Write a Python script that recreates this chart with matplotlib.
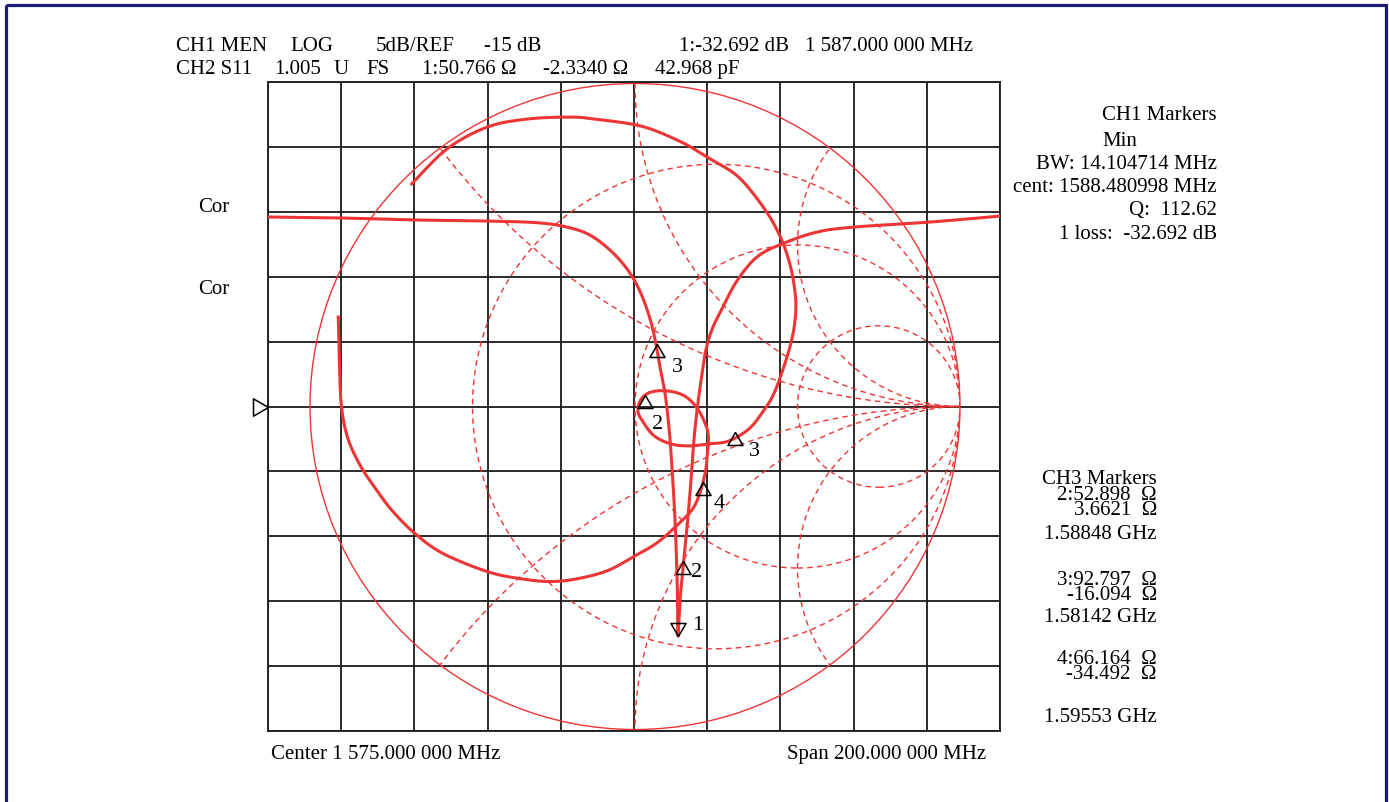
import numpy as np
import matplotlib.pyplot as plt
from matplotlib.patches import Circle, Rectangle

plt.rcParams['font.family'] = ['Liberation Serif', 'DejaVu Serif']

# ---- values ----
center_mhz = 1575.0
span_mhz = 200.0
ref_db = -15.0
db_per_div = 5.0

# CH1 log magnitude trace
ch1_mhz = [1475.0, 1495.5, 1515.4, 1534.8, 1549.0, 1557.0, 1563.0, 1568.4, 1573.1,
           1576.6, 1579.4, 1581.0, 1582.1, 1583.5, 1584.6, 1585.4, 1586.2, 1586.7,
           1586.9, 1587.0, 1587.6, 1588.4, 1589.2, 1589.7, 1590.6, 1591.4, 1592.5,
           1593.6, 1594.6, 1596.4, 1599.0, 1603.1, 1608.6, 1615.4, 1625.0, 1635.4,
           1655.9, 1675.0]
ch1_db = [-0.40, -0.48, -0.63, -0.71, -0.85, -1.20, -1.80, -2.94, -4.40,
          -6.10, -8.26, -10.18, -11.96, -14.04, -16.73, -19.81, -23.67, -27.52,
          -29.82, -32.69, -29.82, -27.52, -25.21, -23.67, -20.59, -17.50, -14.65,
          -12.50, -10.70, -9.00, -7.50, -5.33, -3.48, -2.48, -1.56, -1.17,
          -0.79, -0.33]

ch1_mk_id = ['1', '2', '3']
ch1_mk_mhz = [1587.0, 1588.48, 1581.42]
ch1_mk_db = [-32.692, -26.9, -10.2]

# CH2 S11 on the Smith chart (reflection coefficient)
s11_re = [-0.913, -0.910, -0.904, -0.885, -0.848, -0.802, -0.746, -0.675, -0.591,
          -0.455, -0.353, -0.260, -0.176, -0.084, -0.003, 0.065, 0.127, 0.183,
          0.214, 0.223, 0.226, 0.214, 0.189, 0.152, 0.102, 0.050, 0.019, 0.009,
          0.025, 0.059, 0.111, 0.167, 0.226, 0.288, 0.350, 0.393, 0.427, 0.461,
          0.486, 0.495, 0.489, 0.474, 0.446, 0.399, 0.319, 0.232, 0.142, 0.019,
          -0.127, -0.198, -0.331, -0.455, -0.579, -0.687]
s11_im = [0.277, 0.153, 0.008, -0.094, -0.178, -0.249, -0.324, -0.395, -0.455,
          -0.511, -0.533, -0.542, -0.533, -0.508, -0.464, -0.424, -0.370, -0.308,
          -0.215, -0.141, -0.091, -0.048, -0.002, 0.033, 0.048, 0.045, 0.023, -0.014,
          -0.048, -0.091, -0.116, -0.122, -0.116, -0.107, -0.070, -0.017, 0.039, 0.132,
          0.224, 0.308, 0.379, 0.450, 0.528, 0.611, 0.710, 0.766, 0.819, 0.868,
          0.890, 0.896, 0.890, 0.865, 0.797, 0.689]

# CH3 markers (impedance, ohms)
ch3_mk_id = ['2', '3', '4']
ch3_mk_r = [52.898, 92.797, 66.164]
ch3_mk_x = [3.6621, -16.094, -34.492]
z0 = 50.0

smith_r = [1 / 3, 1.0, 3.0]
smith_x = [0.5, 1.0, 2.0]


def smooth(xs, ys, n=10):
    # catmull-rom through the read points, only so the trace draws round
    p = np.column_stack([xs, ys]).astype(float)
    p = np.vstack([p[0], p, p[-1]])
    t = np.linspace(0, 1, n, endpoint=False)[:, None]
    out = []
    for i in range(1, len(p) - 2):
        p0, p1, p2, p3 = p[i - 1], p[i], p[i + 1], p[i + 2]
        out.append(0.5 * (2 * p1 + (p2 - p0) * t + (2 * p0 - 5 * p1 + 4 * p2 - p3) * t ** 2
                          + (3 * p1 - p0 - 3 * p2 + p3) * t ** 3))
    out.append(p[-2][None])
    out = np.vstack(out)
    return out[:, 0], out[:, 1]


# ---- figure ----
W, H = 1389, 803
fig = plt.figure(figsize=(W / 100, H / 100), dpi=100)
gx0, gx1, gy0, gy1 = 268, 1000, 83, 732
pos = [gx0 / W, 1 - gy1 / H, (gx1 - gx0) / W, (gy1 - gy0) / H]

red = '#ee3535'
ink = '#1a1a1a'

# overlay in pixel units for the screen text and frame
ov = fig.add_axes([0, 0, 1, 1])
ov.set_xlim(0, W)
ov.set_ylim(H, 0)
ov.axis('off')
ov.add_patch(Rectangle((5.5, 5.5), 1380, 830, fill=False, ec='#1c1c78', lw=2.3, clip_on=False))

# rectangular grid / log mag
ax = fig.add_axes(pos)
ax.set_facecolor('none')
ax.set_xlim(center_mhz - span_mhz / 2, center_mhz + span_mhz / 2)
ax.set_ylim(ref_db - 5 * db_per_div, ref_db + 5 * db_per_div)
ax.set_xticks(np.linspace(center_mhz - span_mhz / 2, center_mhz + span_mhz / 2, 11))
ax.set_yticks(np.arange(ref_db - 5 * db_per_div, ref_db + 5 * db_per_div + 0.1, db_per_div))
ax.grid(True, color=ink, lw=1.3)
ax.tick_params(length=0, labelbottom=False, labelleft=False)
for s in ax.spines.values():
    s.set_color(ink)
    s.set_linewidth(1.3)
lx, ly = smooth(ch1_mhz, ch1_db)
ax.plot(lx, ly, color=red, lw=2.2, zorder=4)

up = [(0, 0), (-0.55, -0.95), (0.55, -0.95), (0, 0)]
down = [(0, 0), (-0.55, 0.95), (0.55, 0.95), (0, 0)]
right = [(0, 0), (-0.95, 0.55), (-0.95, -0.55), (0, 0)]
ms = 26 * 0.72

ax.plot([ax.get_xlim()[0]], [ref_db], marker=right, ms=30 * 0.72, mfc='white',
        mec='black', mew=1.1, clip_on=False, zorder=6)

ch1_off = {'1': (14, 12), '2': (8, -11), '3': (14, -22)}
for k, f, d in zip(ch1_mk_id, ch1_mk_mhz, ch1_mk_db):
    ax.plot([f], [d], marker=down if k == '1' else up, ms=ms, mfc='none',
            mec='black', mew=1.1, zorder=6, clip_on=False)
    ax.annotate(k, (f, d), xytext=ch1_off[k], textcoords='offset pixels',
                ha='left', va='center', fontsize=16)

# Smith chart (screen pixels are a touch wider than tall)
Rx, Ry, cx = 325.0, 323.0, 635.0
sm = fig.add_axes(pos)
sm.set_facecolor('none')
sm.set_xlim((gx0 - cx) / Rx, (gx1 - cx) / Rx)
sm.set_ylim(-(gy1 - gy0) / 2 / Ry, (gy1 - gy0) / 2 / Ry)
sm.axis('off')

unit = Circle((0, 0), 1.0, transform=sm.transData)
sm.add_patch(Circle((0, 0), 1.0, fill=False, ec=red, lw=1.0))
dash = (0, (4, 3))
for r in smith_r:
    c = Circle((r / (1 + r), 0), 1 / (1 + r), fill=False, ec=red, lw=1.0, ls=dash)
    sm.add_patch(c)
    c.set_clip_path(unit)
for x in smith_x:
    for sgn in (1, -1):
        c = Circle((1, sgn / x), 1 / x, fill=False, ec=red, lw=1.0, ls=dash)
        sm.add_patch(c)
        c.set_clip_path(unit)

sx, sy = smooth(s11_re, s11_im)
sm.plot(sx, sy, color=red, lw=2.2, zorder=4)

ch3_off = {'2': (7, -28), '3': (14, -19), '4': (11, -20)}
for k, r, x in zip(ch3_mk_id, ch3_mk_r, ch3_mk_x):
    z = complex(r, x) / z0
    g = (z - 1) / (z + 1)
    sm.plot([g.real], [g.imag], marker=up, ms=ms, mfc='none', mec='black',
            mew=1.1, zorder=6)
    sm.annotate(k, (g.real, g.imag), xytext=ch3_off[k], textcoords='offset pixels',
                ha='left', va='center', fontsize=16)

# ---- screen text ----
fs = 15
hdr1 = [(176, 'CH1 MEN'), (290, 'LOG'), (376, '5dB/REF'), (484, '-15 dB'),
        (679, '1:-32.692 dB'), (805, '1 587.000 000 MHz')]
hdr2 = [(176, 'CH2 S11'), (274, '1.005'), (334, 'U'), (366, 'FS'),
        (422, '1:50.766 Ω'), (543, '-2.3340 Ω'), (655, '42.968 pF')]
for x, t in hdr1:
    ov.text(x, 51, t, fontsize=fs, va='baseline')
for x, t in hdr2:
    ov.text(x, 74, t, fontsize=fs, va='baseline')

ch1_box = [(120, 'CH1 Markers'), (169, 'BW: 14.104714 MHz'),
           (192, 'cent: 1588.480998 MHz'), (215, 'Q:  112.62'),
           (239, '1 loss:  -32.692 dB')]
for y, t in ch1_box:
    ov.text(1217, y, t, fontsize=fs, va='baseline', ha='right')
ov.text(1102, 146, 'Min', fontsize=fs, va='baseline')

# the CH3 block is packed tight on the screen
ch3_box = [(484, 'CH3 Markers'), (500, '2:52.898  Ω'), (515, '3.6621  Ω'),
           (539, '1.58848 GHz'), (585, '3:92.797  Ω'), (600, '-16.094  Ω'),
           (622, '1.58142 GHz'), (664, '4:66.164  Ω'), (679, '-34.492  Ω'),
           (722, '1.59553 GHz')]
for y, t in ch3_box:
    ov.text(1157, y, t, fontsize=fs, va='baseline', ha='right')

ov.text(198, 212, 'Cor', fontsize=fs, va='baseline')
ov.text(198, 294, 'Cor', fontsize=fs, va='baseline')
ov.text(271, 759, 'Center 1 575.000 000 MHz', fontsize=fs, va='baseline')
ov.text(986, 759, 'Span 200.000 000 MHz', fontsize=fs, va='baseline', ha='right')

fig.savefig('out.png', dpi=100)
